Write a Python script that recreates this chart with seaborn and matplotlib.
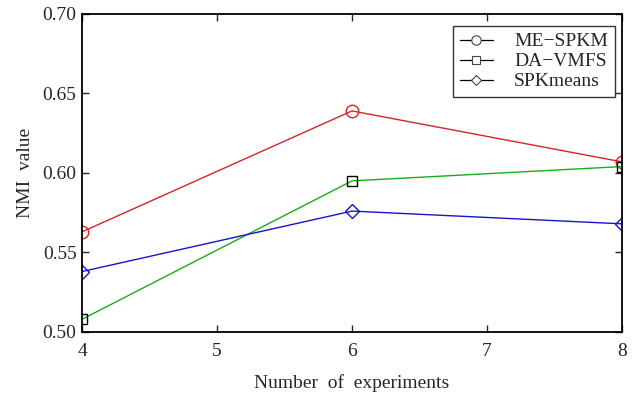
import matplotlib
matplotlib.use("Agg")
import matplotlib.pyplot as plt
import seaborn as sns
import pandas as pd
from matplotlib.lines import Line2D

experiments = [4, 6, 8]
me_spkm = [0.563, 0.639, 0.607]
da_vmfs = [0.508, 0.595, 0.604]
spkmeans = [0.538, 0.576, 0.568]
series_names = ["ME\u2212SPKM", "DA\u2212VMFS", "SPKmeans"]
x_ticks = [4, 5, 6, 7, 8]
y_ticks = [0.50, 0.55, 0.60, 0.65, 0.70]

sns.set_style("ticks")
plt.rcParams["font.family"] = ["Liberation Serif", "DejaVu Serif"]

fig = plt.figure(figsize=(6.37, 3.98), dpi=100)
ax = fig.add_axes([0.129, 0.166, 0.847, 0.799])

data = {series_names[0]: me_spkm, series_names[1]: da_vmfs, series_names[2]: spkmeans}
colors = ["#d42525", "#15b015", "#1515cc"]
mcolors = ["#d42525", "black", "#1515cc"]
markers = ["o", "s", "D"]
msizes = [9, 7.5, 7]
for name, c, mc, m, ms in zip(series_names, colors, mcolors, markers, msizes):
    df = pd.DataFrame({"x": experiments, "y": data[name]})
    sns.lineplot(data=df, x="x", y="y", ax=ax, color=c, linewidth=1.0,
                 marker=m, markersize=ms, markerfacecolor="none",
                 markeredgecolor=mc, markeredgewidth=1.0, legend=False)

ax.set_xlim(4, 8)
ax.set_ylim(0.50, 0.70)
ax.set_xticks(x_ticks)
ax.set_xticklabels([str(t) for t in x_ticks])
ax.set_yticks(y_ticks)
ax.set_yticklabels([f"{t:.2f}" for t in y_ticks])
ax.tick_params(direction="in", top=True, right=True, labelsize=14, length=5, width=1)
ax.tick_params(axis="x", pad=8)
ax.tick_params(axis="y", pad=4)
for s in ax.spines.values():
    s.set_visible(True)
    s.set_linewidth(1.3)
    s.set_color("black")
ax.set_xlabel("Number  of  experiments", fontsize=14, labelpad=10)
ax.set_ylabel("NMI  value", fontsize=14, labelpad=6)

handles = [Line2D([0], [0], color="black", linewidth=0.9, marker=m, markersize=ms * 0.75,
                  markerfacecolor="white", markeredgecolor="#444444", markeredgewidth=0.8)
           for m, ms in zip(markers, msizes)]
leg = ax.legend(handles, series_names, loc="upper right", bbox_to_anchor=(0.987, 0.962),
                borderaxespad=0, fontsize=14, frameon=True, fancybox=False, edgecolor="black",
                handlelength=1.7, borderpad=0.35, labelspacing=0.12, handletextpad=1.1)
leg.get_frame().set_linewidth(1.0)

fig.savefig("out.png", dpi=100)
